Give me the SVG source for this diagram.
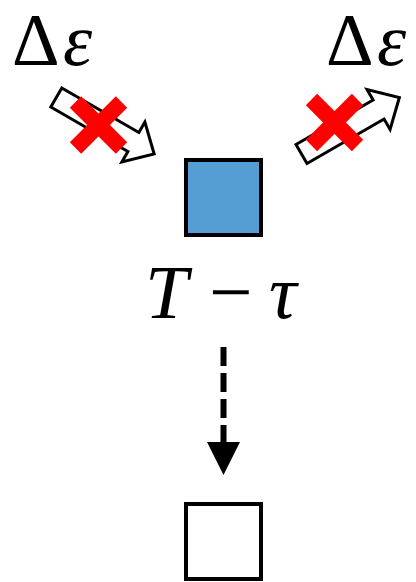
<svg xmlns="http://www.w3.org/2000/svg" width="416" height="582" viewBox="0 0 416 582">
<style>
.lbl{font-family:"Liberation Serif","Times New Roman",serif;font-size:74px;fill:#000}
.it{font-style:italic}
.hollow{fill:#fff;stroke:#000;stroke-width:3;stroke-linejoin:miter}
.x{stroke:#FF0000;stroke-width:16;stroke-linecap:butt}
.box{stroke:#000;stroke-width:4}
</style>
<defs>
<polygon id="harrow" points="0,-11 89,-11 89,-23 113,0 89,23 89,11 0,11"/>
</defs>
<rect width="416" height="582" fill="#fff"/>
<g id="label-left">
<text class="lbl" x="12" y="65">Δ</text>
<text class="lbl it" x="63" y="65">ε</text>
</g>
<g id="label-right">
<text class="lbl" x="326" y="65">Δ</text>
<text class="lbl it" x="377" y="65">ε</text>
</g>
<g id="arrow-left">
<use href="#harrow" class="hollow" transform="translate(56.3,97.5) rotate(30)"/>
<path class="x" d="M75.5,102 L121.5,148 M121.5,102 L75.5,148"/>
</g>
<g id="arrow-right">
<use href="#harrow" class="hollow" transform="translate(301.5,154) rotate(-30)"/>
<path class="x" d="M311.5,99.5 L357.5,145.5 M357.5,99.5 L311.5,145.5"/>
</g>
<g id="node-top">
<rect class="box" x="186" y="160" width="75" height="75" fill="#559ED3"/>
</g>
<g id="label-mid">
<text class="lbl it" x="145" y="318" style="font-size:77px">T</text>
<text class="lbl" x="209" y="318" style="font-size:77px">−</text>
<text class="lbl it" x="269" y="318" style="font-size:77px">τ</text>
</g>
<g id="connectors">
<line x1="223.5" y1="347" x2="223.5" y2="443" stroke="#000" stroke-width="6" stroke-dasharray="19,7"/>
<polygon points="207,442 240,442 223.5,475" fill="#000"/>
</g>
<g id="node-bottom">
<rect class="box" x="186" y="504" width="75" height="75" fill="#fff"/>
</g>
</svg>
